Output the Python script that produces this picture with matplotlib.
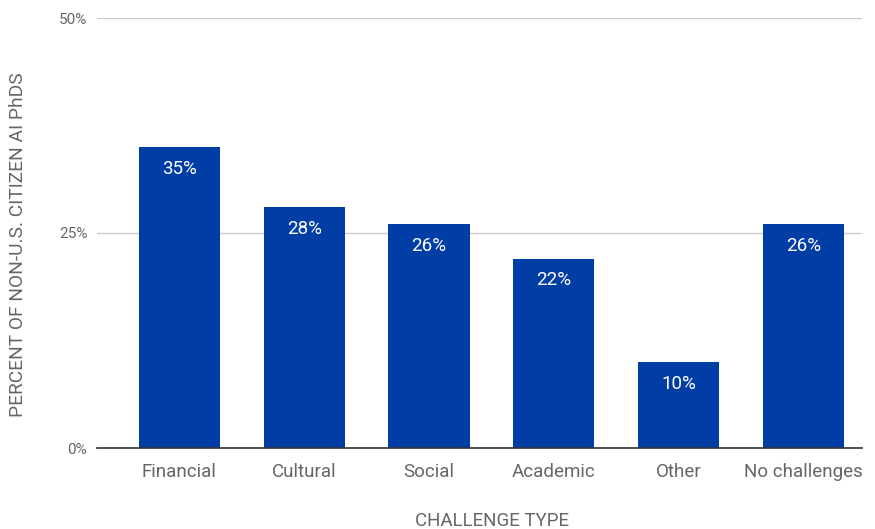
import matplotlib.pyplot as plt
import numpy as np

plt.rcParams['font.family'] = ['Roboto', 'DejaVu Sans']

categories = ["Financial", "Cultural", "Social", "Academic", "Other", "No challenges"]
percents = [35, 28, 26, 22, 10, 26]
yticks = [0, 25, 50]

bar_color = "#003da5"
text_gray = "#666666"

fig = plt.figure(figsize=(8.75, 5.29), dpi=100)
ax = fig.add_axes([97 / 875, 81 / 529, 765 / 875, 430 / 529])

x = np.arange(len(categories))
bars = ax.bar(x, percents, width=0.65, color=bar_color, zorder=3)

# value labels sit just inside the top of each bar
for rect, val in zip(bars, percents):
    ax.annotate(f"{val}%", (rect.get_x() + rect.get_width() / 2, val),
                xytext=(0, -15.5), textcoords="offset points",
                ha="center", va="center", color="white", fontsize=13.5)

ax.set_xlim(-0.66, 5.47)
ax.set_ylim(0, 50)
ax.set_yticks(yticks)
ax.set_yticklabels([f"{t}%" for t in yticks])
ax.set_xticks(x)
ax.set_xticklabels(categories)

ax.grid(axis="y", color="#cccccc", linewidth=1, zorder=0)
for side in ["top", "right", "left"]:
    ax.spines[side].set_visible(False)
ax.spines["bottom"].set_color("#333333")
ax.spines["bottom"].set_linewidth(1.2)
ax.spines["bottom"].set_zorder(4)

ax.tick_params(axis="both", length=0)
ax.tick_params(axis="x", labelsize=13.5, labelcolor=text_gray, pad=11)
ax.tick_params(axis="y", labelsize=11, labelcolor=text_gray, pad=7)

# axis titles placed in figure coordinates
fig.text(492 / 875, 1 - 521 / 529, "CHALLENGE TYPE", fontsize=13.5,
         color=text_gray, ha="center", va="center")
fig.text(18 / 875, 1 - 245 / 529, "PERCENT OF NON-U.S. CITIZEN AI PhDS",
         fontsize=13.8, color=text_gray, ha="center", va="center", rotation=90)

fig.savefig("out.png", dpi=100)
